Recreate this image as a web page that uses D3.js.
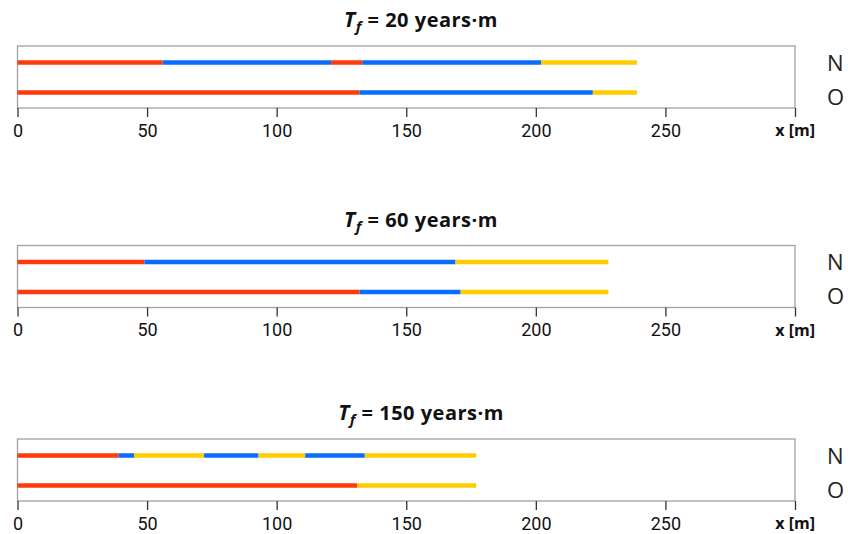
<!DOCTYPE html>
<html>
<head>
<meta charset="utf-8">
<script src="https://cdn.jsdelivr.net/npm/d3@7"></script>
<style>
  html, body { margin: 0; padding: 0; background: #fff; }
  svg { display: block; }
  .tick text { font-family: Roboto, "Open Sans", sans-serif; font-size: 18px; fill: #111; }
</style>
</head>
<body>
<svg id="chart" width="848" height="534"></svg>
<script>
// Tf values of the three panels (years·m)
const tfValues = [20, 60, 150];
// Row labels inside each panel
const rowLabels = ["N", "O"];
// Axis ticks along the distance axis (m)
const xTicks = [0, 50, 100, 150, 200, 250, 300];
const xTickLabels = ["0", "50", "100", "150", "200", "250", ""];

// Zone types along each profile
const zoneTypes = ["red", "blue", "yellow"];

// Segment end points (m) and zone type for each row, start at 0
const tf20N_ends  = [56, 121, 133, 202, 239];
const tf20N_zones = ["red", "blue", "red", "blue", "yellow"];
const tf20O_ends  = [132, 222, 239];
const tf20O_zones = ["red", "blue", "yellow"];

const tf60N_ends  = [49, 169, 228];
const tf60N_zones = ["red", "blue", "yellow"];
const tf60O_ends  = [132, 171, 228];
const tf60O_zones = ["red", "blue", "yellow"];

const tf150N_ends  = [39, 45, 72, 93, 111, 134, 177];
const tf150N_zones = ["red", "blue", "yellow", "blue", "yellow", "blue", "yellow"];
const tf150O_ends  = [131, 177];
const tf150O_zones = ["red", "yellow"];

const panelRows = [
  [[tf20N_ends, tf20N_zones], [tf20O_ends, tf20O_zones]],
  [[tf60N_ends, tf60N_zones], [tf60O_ends, tf60O_zones]],
  [[tf150N_ends, tf150N_zones], [tf150O_ends, tf150O_zones]]
];

const color = d3.scaleOrdinal().domain(zoneTypes).range(["#ff3a0a", "#0a6cff", "#ffcc00"]);

const svg = d3.select("#chart");
const x = d3.scaleLinear().domain([0, 300]).range([17.5, 795]);

const panelTop = [46, 245.5, 439];
const boxH = 62;
const y = d3.scalePoint().domain(rowLabels).range([16.5, 46.5]);
// side labels sit slightly apart from their lines
const labelDy = { N: 8, O: 12 };

function toSegments(ends, zones) {
  return ends.map((e, i) => ({ x0: i === 0 ? 0 : ends[i - 1], x1: e, zone: zones[i] }));
}

panelTop.forEach((top, p) => {
  const g = svg.append("g").attr("transform", `translate(0,${top})`);

  // title: T_f = … years·m
  const title = g.append("text")
    .attr("x", 421).attr("y", -19)
    .attr("text-anchor", "middle")
    .attr("font-family", "'Open Sans', 'DejaVu Sans', sans-serif")
    .attr("font-weight", "bold")
    .attr("font-size", 20)
    .attr("letter-spacing", 0.5)
    .attr("fill", "#111");
  title.append("tspan").attr("font-style", "italic").attr("font-size", 21).text("T");
  title.append("tspan").attr("font-style", "italic").attr("font-size", 15).attr("dy", 5).text("f");
  title.append("tspan").attr("dy", -5).text(` = ${tfValues[p]} years\u00b7m`);

  // frame
  g.append("rect")
    .attr("x", x(0)).attr("y", 0)
    .attr("width", x(300) - x(0)).attr("height", boxH)
    .attr("fill", "none").attr("stroke", "#a0a0a0").attr("stroke-width", 1.3);

  // profiles
  rowLabels.forEach((r, ri) => {
    const [ends, zones] = panelRows[p][ri];
    g.append("g").selectAll("line")
      .data(toSegments(ends, zones))
      .join("line")
      .attr("x1", d => x(d.x0)).attr("x2", d => x(d.x1))
      .attr("y1", y(r)).attr("y2", y(r))
      .attr("stroke", d => color(d.zone))
      .attr("stroke-width", 4.5);

    g.append("text")
      .attr("x", 827).attr("y", y(r) + labelDy[r])
      .attr("font-family", "'Open Sans', 'DejaVu Sans', sans-serif")
      .attr("font-size", 22)
      .attr("fill", "#222")
      .text(r);
  });

  // axis
  const axis = d3.axisBottom(x)
    .tickValues(xTicks)
    .tickFormat((d, i) => xTickLabels[i])
    .tickSize(9)
    .tickSizeOuter(0)
    .tickPadding(7);
  const ag = g.append("g").attr("transform", `translate(0,${boxH})`).call(axis);
  ag.select(".domain").remove();
  ag.selectAll(".tick line").attr("stroke", "#333").attr("stroke-width", 1.3);

  g.append("text")
    .attr("x", 815).attr("y", boxH + 28)
    .attr("text-anchor", "end")
    .attr("font-family", "'Open Sans', 'DejaVu Sans', sans-serif")
    .attr("font-weight", "bold")
    .attr("font-size", 16)
    .attr("fill", "#111")
    .text("x [m]");
});
</script>
</body>
</html>
